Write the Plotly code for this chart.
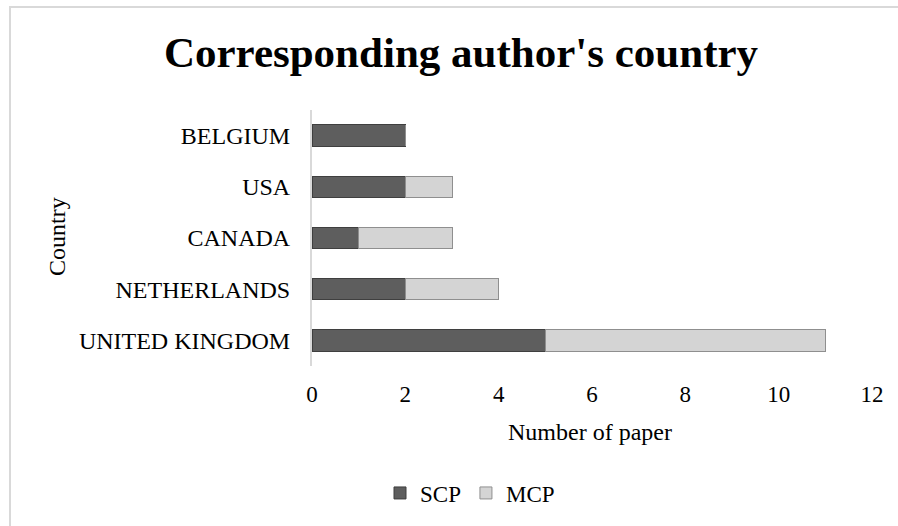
import plotly.graph_objects as go

countries = ["BELGIUM", "USA", "CANADA", "NETHERLANDS", "UNITED KINGDOM"]
scp = [2, 2, 1, 2, 5]
mcp = [0, 1, 2, 2, 6]
x_ticks = [0, 2, 4, 6, 8, 10, 12]

FONT = "Liberation Serif, Times New Roman, serif"

fig = go.Figure()
fig.add_trace(go.Bar(
    y=countries, x=scp, name="SCP", orientation="h", width=0.42,
    marker=dict(color="#5e5e5e", line=dict(color="#3f3f3f", width=1)),
))
fig.add_trace(go.Bar(
    y=countries, x=mcp, name="MCP", orientation="h", width=0.42,
    marker=dict(color="#d4d4d4", line=dict(color="#8f8f8f", width=1)),
))

W, H = 898, 526
L, R, T, B = 312, 26, 110, 160
pw, ph = W - L - R, H - T - B

def px_x(px):
    return (px - L) / pw

def px_y(py):
    return (H - B - py) / ph

fig.update_layout(
    width=W, height=H,
    barmode="stack",
    plot_bgcolor="white", paper_bgcolor="white",
    margin=dict(l=L, r=R, t=T, b=B, autoexpand=False),
    font=dict(family=FONT, size=24, color="#000000"),
    title=dict(
        text="<b>Corresponding author's country</b>",
        font=dict(family=FONT, size=43, color="#000000"),
        x=461 / W, xanchor="center", xref="container",
        y=1 - 52 / H, yanchor="middle", yref="container",
    ),
    xaxis=dict(
        range=[0, 12], tickvals=x_ticks, showgrid=False, zeroline=False,
        showline=False, ticks="", ticklabelstandoff=12,
        tickfont=dict(family=FONT, size=23),
    ),
    yaxis=dict(
        categoryorder="array", categoryarray=countries, autorange="reversed",
        showgrid=False, zeroline=False, showline=True, linecolor="#d9d9d9",
        linewidth=2, ticks="", ticklabelstandoff=15,
        tickfont=dict(family=FONT, size=24),
    ),
    legend=dict(
        orientation="h", x=px_x(470), xanchor="center", y=px_y(493), yanchor="middle",
        font=dict(family=FONT, size=23), itemwidth=30, traceorder="normal",
        bgcolor="rgba(0,0,0,0)",
    ),
    annotations=[
        dict(text="Number of paper", xref="paper", yref="paper",
             x=px_x(590), y=px_y(432), xanchor="center", yanchor="middle",
             showarrow=False, font=dict(family=FONT, size=24)),
        dict(text="Country", xref="paper", yref="paper", textangle=-90,
             x=px_x(57), y=px_y(237), xanchor="center", yanchor="middle",
             showarrow=False, font=dict(family=FONT, size=24)),
    ],
    shapes=[
        dict(type="rect", xref="paper", yref="paper",
             x0=px_x(10), y0=-1.0, x1=1.3, y1=px_y(7),
             line=dict(color="#d9d9d9", width=2), layer="below"),
    ],
)

fig.write_html("out.html")
